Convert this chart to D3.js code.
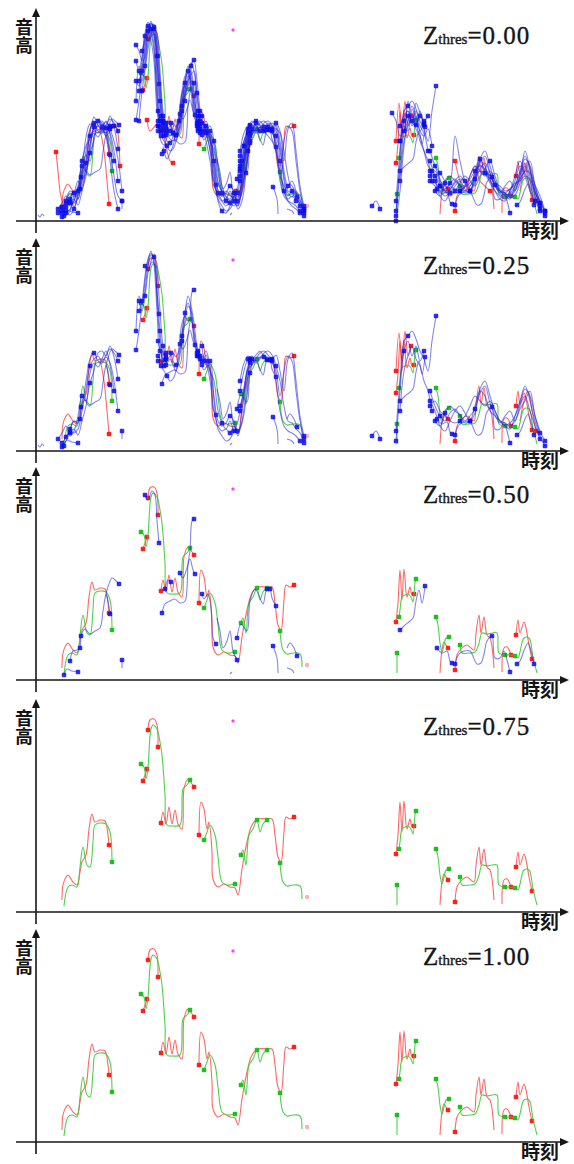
<!DOCTYPE html>
<html>
<head>
<meta charset="utf-8">
<title>音高推定 Zthres</title>
<script src="https://cdn.jsdelivr.net/npm/d3@7"></script>
<style>
  body{margin:0;background:#fff;}
  .ax{stroke:#161616;stroke-width:1.6;fill:none;}
  .arrow{fill:#161616;}
  .cjk{font-family:"Noto Sans CJK JP";font-weight:700;fill:#141414;}
  .vert{writing-mode:vertical-rl;}
  .zl{font-family:"Liberation Serif";fill:#151515;stroke:#151515;stroke-width:0.35;}
</style>
</head>
<body>
<script>
// 5段のパネル、それぞれの Zthres
var thresholds = [0.00, 0.25, 0.50, 0.75, 1.00];
var zLabels = ["0.00", "0.25", "0.50", "0.75", "1.00"];

// 正解の音高 (緑)  [時刻, 音高]
var greenSegs = [
  {dot:"end",   pts:[[28,6],[32,25],[36,27],[41,25],[44,45],[47,65],[51,47],[54,45],[57,70],[59,87],[64,89],[70,88],[74,80],[76,50]]},
  {dot:"both",  pts:[[105,148],[108,145],[110,133],[112,145],[115,183],[117,187],[121,183],[124,170],[126,157],[129,117],[131,87],[137,86],[144,87],[147,123],[151,127],[154,132]]},
  {dot:"both",  pts:[[168,72],[171,80],[174,87],[179,77],[182,55],[186,30],[191,27],[199,28]]},
  {dot:"both",  pts:[[205,57],[207,62],[210,47],[213,77],[217,83],[221,92],[224,80],[227,88],[231,92]]},
  {dot:"start", pts:[[244,49],[247,30],[251,26],[257,27],[264,26],[266,13]]},
  {dot:"start", pts:[[361,27],[361,7]]},
  {dot:"both",  pts:[[363,63],[364,70],[366,83],[369,85],[372,86],[375,83],[377,78],[379,97],[380,101]]},
  {dot:"both",  pts:[[400,63],[402,55],[404,37],[406,28],[408,35],[410,42],[413,43]]},
  {dot:"start", pts:[[424,35],[426,27],[433,27],[439,28],[443,37],[446,47],[451,46],[456,47],[461,47],[463,27],[469,25],[474,25],[479,24],[482,22],[484,28],[488,42],[493,42],[497,23],[501,7]]}
];
var greenDots = [[221,92],[469,25],[479,24]];

// 赤の推定結果 (z = 信頼度)
var redSegs = [
  {z:1, dot:"end",   pts:[[26,12],[27,27],[30,35],[32,37],[35,33],[37,30],[41,27],[44,40],[46,50],[50,57],[53,83],[56,98],[59,90],[64,92],[69,91],[72,77],[73,67]]},
  {z:1, dot:"both",  pts:[[107,131],[109,137],[111,143]]},
  {z:1, dot:"both",  pts:[[112,182],[114,192],[118,193],[121,187],[122,165]]},
  {z:1, dot:"both",  pts:[[125,89],[127,100],[130,88],[133,105],[136,88],[139,102],[142,88],[146,83],[148,123],[152,133],[154,131],[158,125]]},
  {z:1, dot:"both",  pts:[[163,77],[165,110],[168,103],[171,83],[173,90],[176,60],[177,33],[182,25],[188,28],[194,25],[199,24],[202,17],[206,43],[211,70],[216,87],[222,93],[231,93],[236,93],[239,77],[242,55],[245,50],[248,80],[250,95],[254,93],[258,95]]},
  {z:1, dot:"both",  pts:[[360,58],[362,77],[364,110],[366,80],[368,111],[371,83],[374,93],[376,85],[378,86]]},
  {z:1, dot:"end",   pts:[[404,7],[406,30],[408,38],[410,35],[412,32]]},
  {z:1, dot:"start", pts:[[419,10],[421,25],[424,30],[431,35],[438,30],[440,47],[443,65],[445,47],[448,63],[451,45],[454,42],[458,12]]},
  {z:1, dot:"end",   pts:[[466,8],[468,32],[471,33],[475,25]]},
  {z:1, dot:"both",  pts:[[480,45],[482,60],[484,47],[488,58],[490,52],[493,35],[496,21]]},
  {z:0.12, dot:"start", pts:[[20,69],[22,50],[24,30],[26,20],[28,15]]},
  {z:0.30, dot:"end",   pts:[[64,92],[68,70],[71,40],[73,17]]},
  {z:0.15, dot:"both",  pts:[[78,95],[81,92],[83,75],[84,55]]},
  {z:0.10, dot:"both",  pts:[[111,101],[114,90],[119,95],[124,100],[129,80],[134,60],[137,58]]},
  {z:0.20, dot:"start", pts:[[200,30],[204,25],[209,50],[214,75],[219,88]]},
  {z:0.30, dot:"both",  pts:[[360,80],[363,118],[366,90],[369,120],[372,95],[375,105]]},
  {z:0.10, dot:"both",  pts:[[419,60],[424,40],[429,30],[434,45],[439,55],[444,40],[449,35],[454,30]]},
  {z:0.30, dot:"end",   pts:[[484,30],[488,50],[492,60],[496,40],[500,20]]}
];
var redFaint = [[271,15]];

// 青の推定結果 (Zthres=0.50 でも残るもの)
var blueSegs = [
  {z:0.6, dot:"both",  pts:[[28,5],[31,11],[36,9],[42,8]]},
  {z:0.6, dot:"both",  pts:[[34,19],[37,29],[41,30],[44,32],[45,44],[49,51],[54,46],[59,49],[64,52],[67,69],[70,86],[76,102],[79,100],[83,96]]},
  {z:0.6, dot:"end",   pts:[[70,86],[72,79],[74,66]]},
  {z:0.6, dot:"start", pts:[[86,20],[86,12]]},
  {z:0.6, dot:"both",  pts:[[109,185],[112,180],[116,189],[119,185],[121,159],[123,137]]},
  {z:0.6, dot:"both",  pts:[[126,67],[129,76],[134,79],[139,81],[144,77],[149,79],[151,92],[152,116],[154,129],[156,159],[158,161]]},
  {z:0.6, dot:"both",  pts:[[129,91],[132,100],[135,98]]},
  {z:0.6, dot:"both",  pts:[[144,107],[147,102],[151,112],[154,121],[157,110],[159,106]]},
  {z:0.6, dot:"both",  pts:[[166,86],[168,81],[172,86],[175,72],[177,42],[180,36]]},
  {z:0.6, dot:"end",   pts:[[181,62],[184,49],[187,32],[191,39],[194,49],[197,29],[201,20]]},
  {z:0.6, dot:"both",  pts:[[201,42],[205,56],[211,49],[214,79],[219,91],[224,82],[227,76],[231,91],[234,91],[236,82],[240,74]]},
  {z:0.6, dot:"start", pts:[[237,34],[241,22],[242,7]]},
  {z:0.6, dot:"end",   pts:[[251,32],[254,37],[258,32],[261,24]]},
  {z:0.6, dot:"none",  pts:[[251,12],[256,10],[258,7]]},
  {z:0.6, dot:"both",  pts:[[364,50],[368,54],[374,59],[377,62],[380,79],[383,90],[386,77],[389,94]]},
  {z:0.6, dot:"both",  pts:[[401,32],[406,27],[411,29],[414,19],[416,17]]},
  {z:0.6, dot:"both",  pts:[[419,16],[423,26],[428,29],[434,29],[441,16],[445,17],[448,26],[451,39],[456,44],[459,22],[464,22],[468,29],[471,20],[474,8]]},
  {z:0.6, dot:"both",  pts:[[481,16],[484,19],[489,32],[492,37],[495,29],[498,16]]},
  {z:0.6, dot:"none",  pts:[[194,6],[196,8]]},
  {z:0.3, dot:"none",  pts:[[2,6],[4,4],[6,7],[8,5]]}
];
var blueDots = [[44,32],[45,44],[231,91],[234,91],[456,44]];

// 低い Zthres でだけ残る青の候補: フレーズごとの時刻と音高
var bundleZ = [0.35, 0.12, 0.31, 0.41, 0.18, 0.05, 0.29, 0.15, 0.22, 0.02];
// 候補ごとの途中の点 (フレーズ内の番号)
var bundleDotIdx = [[2,8],[4,10],[6],[3,9],[5,12],[1,7],[8],[2,6,11],[4],[9,13]];

var phraseA_t = [22,26,30,34,38,42,46,50,54,58,62,66,70,74,78,82,86];
var phraseA = [
  [null,8,14,20,18,22,40,62,85,92,95,90,94,88,70,40,null],
  [null,null,10,6,12,25,35,48,70,96,100,98,92,95,null,null,null],
  [12,18,25,15,20,35,55,50,78,88,84,92,100,86,60,null,null],
  [null,4,10,22,30,28,46,70,92,98,90,88,96,102,98,90,null],
  [null,null,20,28,24,30,52,66,60,85,95,97,93,70,45,25,20],
  [null,14,6,10,26,40,32,58,88,104,96,92,85,90,95,null,null],
  [null,null,null,18,22,16,30,45,68,80,98,100,95,105,94,72,null],
  [8,12,18,24,14,28,60,75,82,90,88,94,84,60,30,12,null],
  [null,10,22,30,28,22,48,84,97,95,100,92,88,94,null,null,null],
  [null,null,8,12,20,34,40,52,75,94,102,96,99,92,80,62,30]
];

var phraseB_t = [100,103,106,109,112,115,118,121,124,127,130];
var phraseB = [
  [null,140,150,175,192,198,190,160,120,98,92],
  [176,170,160,182,195,188,170,130,100,95,null],
  [101,120,145,160,185,196,194,150,110,90,86],
  [null,150,140,155,178,190,197,180,140,105,94],
  [140,135,160,188,199,192,176,120,96,100,null],
  [null,null,170,180,196,194,185,165,125,92,88],
  [120,155,148,170,190,200,186,140,100,96,98],
  [null,100,130,150,172,186,192,188,150,110,92],
  [160,150,165,185,190,180,160,110,94,null,null],
  [null,130,155,165,188,197,195,175,135,100,90]
];

var phraseC_t = [122,125,128,131,134,137,140,143,146,149,152,155,158,161,164];
var phraseC = [
  [95,90,85,88,92,86,80,90,110,130,145,140,120,100,92],
  [null,100,92,80,78,85,95,100,125,140,150,158,150,125,100],
  [110,98,90,95,100,90,86,105,128,135,130,132,110,95,null],
  [null,85,80,75,70,72,80,95,118,138,155,145,128,105,95],
  [100,96,100,92,85,88,92,98,110,125,135,140,138,115,98],
  [null,null,70,62,68,75,88,100,120,132,140,150,130,102,90],
  [90,92,86,90,95,98,94,100,115,140,148,138,115,98,null],
  [null,105,98,88,82,80,86,92,108,128,142,155,160,140,110],
  [95,80,76,84,90,86,90,108,130,145,150,130,105,96,88],
  [null,90,94,100,96,90,85,88,102,120,138,146,150,128,105]
];

var phraseD_t = [162,166,170,174,178,182,186,190,194,198,202,206,210,214];
var phraseD = [
  [100,95,90,70,40,25,20,22,18,25,15,40,70,88],
  [110,100,92,85,60,30,20,15,20,24,28,35,55,80],
  [95,88,96,80,70,40,28,22,30,20,18,30,60,92],
  [null,105,86,90,50,22,15,10,12,20,30,52,75,90],
  [90,92,80,60,35,28,25,30,26,22,12,20,48,85],
  [105,98,94,88,75,48,30,20,18,15,22,45,80,95],
  [null,90,100,85,55,30,25,28,35,30,20,28,50,78],
  [98,100,88,72,45,20,10,8,15,25,35,60,85,96],
  [92,86,90,95,80,55,35,25,20,18,15,35,65,90],
  [null,null,95,82,62,38,30,24,22,28,24,40,72,92]
];

var phraseE_t = [204,208,212,216,220,224,228,232,236,240,244,248,252,256,260,264,268];
var phraseE = [
  [60,80,92,95,90,94,96,92,90,70,40,25,20,18,15,10,null],
  [50,72,88,98,100,95,90,95,98,94,60,30,22,25,20,null,null],
  [45,60,85,90,96,100,94,90,88,80,55,80,95,90,60,30,12],
  [70,88,95,92,88,92,98,100,96,85,70,45,30,28,22,18,8],
  [55,65,78,94,96,90,92,96,94,92,88,50,35,40,30,15,null],
  [null,75,90,100,95,88,92,94,90,75,45,35,28,24,30,22,10],
  [40,58,82,86,92,98,100,96,92,96,80,60,92,98,70,35,15],
  [65,80,88,92,90,94,90,85,80,70,50,30,20,15,12,8,null],
  [null,null,70,88,98,96,92,98,95,90,75,40,25,30,28,20,12],
  [52,70,86,96,92,90,96,92,94,98,90,70,45,30,25,15,5]
];

var phraseF_t = [336,340,344,348,352,356,360,364,368,372,376,380,384,388,392,396,400];
var phraseF = [
  [null,null,null,null,null,null,10,60,100,110,95,105,90,100,null,null,null],
  [null,null,null,null,null,108,100,85,90,120,100,110,95,88,70,null,null],
  [null,null,null,null,null,null,null,40,80,95,105,92,85,70,60,40,null],
  [null,null,null,null,null,null,20,70,110,115,120,112,100,92,80,110,135],
  [null,null,null,null,null,null,5,50,88,100,108,96,105,98,null,null,null],
  [null,null,null,null,null,null,null,80,95,90,112,100,80,70,55,50,null],
  [15,20,12,null,null,null,null,null,null,null,null,null,null,null,null,null,null],
  [null,null,null,null,null,null,null,95,105,110,98,96,110,100,105,null,null],
  [null,null,null,null,null,null,0,30,75,100,115,105,90,85,92,75,null],
  [null,null,null,null,null,null,null,null,90,105,100,118,108,96,null,null,null]
];

var phraseG_t = [394,399,404,409,414,419,424,429,434,439,444,449,454,459,464,469,474,479,484,489,494,499,504,509];
var phraseG = [
  [60,45,35,30,38,42,35,28,30,45,60,55,40,35,30,28,25,30,45,55,40,25,12,null],
  [null,40,30,25,28,35,40,32,28,50,62,48,38,30,22,20,30,45,60,45,30,20,null,null],
  [45,50,40,35,30,28,30,35,45,55,50,45,50,40,30,25,22,35,50,65,50,30,15,5],
  [null,30,25,38,45,40,36,30,35,42,58,65,48,36,28,35,40,30,42,50,60,35,18,null],
  [70,55,42,30,25,30,38,45,40,35,45,52,60,45,32,28,24,26,38,58,45,28,20,8],
  [null,null,35,28,32,38,42,40,35,48,55,50,42,30,25,22,30,40,55,48,35,22,10,null],
  [50,40,25,20,30,40,45,38,30,38,62,70,55,40,30,26,28,35,48,62,55,35,20,10],
  [null,55,48,40,35,32,30,34,38,45,50,48,45,38,35,30,32,38,40,45,42,30,18,null],
  [40,35,30,32,38,85,60,40,32,40,52,58,48,35,28,22,26,32,45,70,52,30,15,null],
  [null,45,38,30,28,30,34,36,42,50,56,52,45,36,30,28,32,36,42,50,48,36,25,10]
];

var magenta = [[197,191]];

// フレーズの候補を青のセグメントに追加
[[phraseA_t,phraseA],[phraseB_t,phraseB],[phraseC_t,phraseC],[phraseD_t,phraseD],
 [phraseE_t,phraseE],[phraseF_t,phraseF],[phraseG_t,phraseG]].forEach(function(ph){
  ph[1].forEach(function(hs,i){
    var pts = [], mids = [];
    hs.forEach(function(h,j){ if(h !== null) pts.push([ph[0][j], h]); });
    bundleDotIdx[i].forEach(function(j){ if(hs[j] != null) mids.push([ph[0][j], hs[j]]); });
    blueSegs.push({z:bundleZ[i], dot:"both", pts:pts, mids:mids});
  });
});

// 画面
var width = 574, height = 1164;
var axisY = [221, 451, 680, 912, 1142];
var svg = d3.select("body").append("svg")
  .attr("width", width).attr("height", height);
svg.append("rect").attr("width", width).attr("height", height).attr("fill", "#fff");

var xScale = d3.scaleLinear().domain([0, 530]).range([36, 566]);

thresholds.forEach(function(th, p){
  var base = axisY[p];
  var yScale = d3.scaleLinear().domain([0, 211]).range([base, base - 211]);
  var line = d3.line()
    .x(function(d){ return xScale(d[0]); })
    .y(function(d){ return yScale(d[1]); })
    .curve(d3.curveCatmullRom.alpha(0.5));
  var g = svg.append("g");

  function drawSegs(list, color, width, opacity, dotColor, dotOpacity){
    list.forEach(function(s){
      g.append("path")
        .attr("d", line(s.pts))
        .attr("fill", "none")
        .attr("stroke", color)
        .attr("stroke-width", width)
        .attr("stroke-opacity", opacity)
        .attr("stroke-linejoin", "round");
      var ends = [];
      if(s.dot === "start" || s.dot === "both") ends.push(s.pts[0]);
      if(s.dot === "end" || s.dot === "both") ends.push(s.pts[s.pts.length - 1]);
      drawDots(ends.concat(s.mids || []), dotColor, dotOpacity, 4.5);
    });
  }
  function drawDots(pts, color, opacity, size){
    g.selectAll(null).data(pts).enter().append("rect")
      .attr("x", function(d){ return xScale(d[0]) - size/2; })
      .attr("y", function(d){ return yScale(d[1]) - size/2; })
      .attr("width", size).attr("height", size).attr("rx", 1)
      .attr("fill", color).attr("fill-opacity", opacity);
  }

  var reds = redSegs.filter(function(s){ return s.z >= th; });
  var blues = blueSegs.filter(function(s){ return s.z >= th; });

  drawSegs(reds, "#ff3434", 1.1, 0.75, "#ff1414", 0.95);
  drawDots(redFaint, "#ff5050", 0.45, 4);
  drawSegs(greenSegs, "#3ccc3c", 1.1, 0.9, "#1fbf1f", 1);
  drawDots(greenDots, "#1fbf1f", 1, 4.5);
  if(blues.length){
    drawSegs(blues, "#2222d8", 1.1, 0.55, "#0a0af2", 0.85);
    drawDots(blueDots.filter(function(){ return th <= 0.6; }), "#0a0af2", 0.85, 4.5);
  }
  drawDots(magenta, "#ff3cff", 1, 3);

  // 軸
  g.append("line").attr("class", "ax")
    .attr("x1", 16).attr("y1", base).attr("x2", 562).attr("y2", base);
  g.append("path").attr("class", "arrow")
    .attr("d", "M569," + base + "L560," + (base - 4) + "L560," + (base + 4) + "Z");
  g.append("line").attr("class", "ax")
    .attr("x1", 36).attr("y1", base + 12).attr("x2", 36).attr("y2", base - 205);
  g.append("path").attr("class", "arrow")
    .attr("d", "M36," + (base - 213) + "L32," + (base - 204) + "L40," + (base - 204) + "Z");

  // ラベル (縦書きの「音高」)
  g.append("text").attr("class", "cjk vert").attr("font-size", 18)
    .attr("x", 24).attr("y", base - 203).text("音高");
  g.append("text").attr("class", "cjk").attr("font-size", 19)
    .attr("x", 540).attr("y", base + 17).attr("text-anchor", "middle").text("時刻");

  var zl = g.append("text").attr("class", "zl")
    .attr("x", 423).attr("y", base - 177).attr("font-size", 25);
  zl.append("tspan").text("Z");
  zl.append("tspan").attr("font-size", 15).text("thres");
  zl.append("tspan").attr("letter-spacing", 1).text("=" + zLabels[p]);
});
</script>
</body>
</html>
